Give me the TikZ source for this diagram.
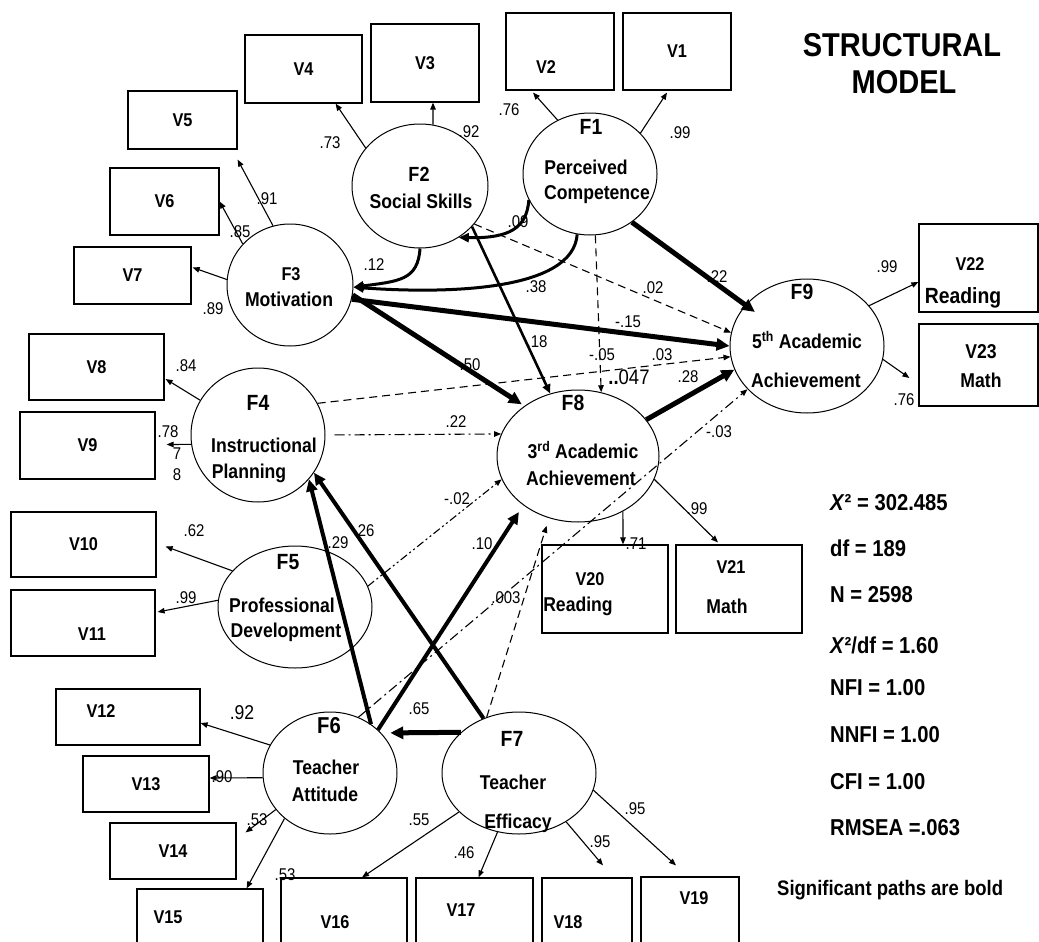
\documentclass[tikz,border=0pt]{standalone}
\usepackage{fontspec}
\setmainfont{Liberation Sans}[FakeStretch=0.88]
\usetikzlibrary{shapes.geometric,arrows.meta,calc}
\newcommand{\fsz}[1]{\fontsize{#1}{#1}\selectfont}
\begin{document}
\begin{tikzpicture}[x=1pt,y=-1pt,
 box/.style={draw,line width=1.2pt,inner sep=0pt,font=\bfseries\fsz{18.5}},
 lat/.style={draw,ellipse,line width=1pt,inner sep=0pt},
 ft/.style={font=\bfseries\fsz{22},inner sep=0pt},
 et/.style={font=\bfseries\fsz{20},inner sep=0pt},
 vt/.style={font=\bfseries\fsz{18.5},inner sep=0pt},
 cf/.style={font=\fsz{17},inner sep=0pt},
 st/.style={font=\bfseries\fsz{23},inner sep=0pt,anchor=west},
 ld/.style={line width=1.1pt,-{Triangle[length=7pt,width=5.5pt]}},
 bld/.style={line width=5pt,-{Triangle[length=13pt,width=12pt]}},
 bldf/.style={line width=4pt,-{Triangle[length=12pt,width=11pt]}},
 mid/.style={line width=2.6pt,-{Triangle[length=9pt,width=8pt]}},
 crv/.style={line width=3pt,-{Triangle[length=10pt,width=9pt]}},
 dsh/.style={line width=1.1pt,dash pattern=on 8pt off 5pt,-{Triangle[length=7pt,width=5.5pt]}},
 dd/.style={line width=1.1pt,dash pattern=on 10pt off 4pt on 2pt off 4pt,-{Triangle[length=7pt,width=5.5pt]}},
 ddd/.style={line width=1.1pt,dash pattern=on 8pt off 3pt on 2pt off 3pt on 2pt off 3pt,-{Triangle[length=7pt,width=5.5pt]}},
]
\fill[white] (0,0) rectangle (1039,942);
\useasboundingbox (0,0) rectangle (1039,942);

% ---------- observed variables ----------
\node[box,minimum width=108,minimum height=77] (V1) at (677,51.5) {V1};
\node[box,minimum width=108,minimum height=77] (V2) at (560,51.5) {};
\node[box,minimum width=108,minimum height=78] (V3) at (425,63) {V3};
\node[box,minimum width=117,minimum height=68] (V4) at (303.5,69) {V4};
\node[box,minimum width=109,minimum height=58] (V5) at (182.5,120) {V5};
\node[box,minimum width=109,minimum height=67] (V6) at (164.5,201.5) {V6};
\node[box,minimum width=117,minimum height=57] (V7) at (132.5,275.5) {V7};
\node[box,minimum width=135,minimum height=66] (V8) at (96.5,367) {V8};
\node[box,minimum width=135,minimum height=67] (V9) at (87.5,445.5) {V9};
\node[box,minimum width=145,minimum height=65] (V10) at (83.5,544.5) {V10};
\node[box,minimum width=144,minimum height=66] (V11) at (83,623) {};
\node[box,minimum width=144,minimum height=56] (V12) at (128,717) {};
\node[box,minimum width=126,minimum height=56] (V13) at (146,784) {V13};
\node[box,minimum width=126,minimum height=56] (V14) at (173,851) {V14};
\node[box,minimum width=126,minimum height=66] (V15) at (200,922) {};
\node[box,minimum width=126,minimum height=77] (V16) at (344,916.5) {};
\node[box,minimum width=117,minimum height=77] (V17) at (474.5,916.5) {};
\node[box,minimum width=90,minimum height=77] (V18) at (587,916.5) {};
\node[box,minimum width=98,minimum height=78] (V19) at (690,916) {};
\node[box,minimum width=126,minimum height=88] (V20) at (605,589) {};
\node[box,minimum width=126,minimum height=88] (V21) at (739,589) {};
\node[box,minimum width=119,minimum height=88] (V22) at (978.5,268) {};
\node[box,minimum width=119,minimum height=82] (V23) at (978.5,365) {};

\node[vt] (V2t) at (546,67) {V2};
\node[vt] (V11t) at (92,634) {V11};
\node[vt] (V12t) at (101,711) {V12};
\node[vt] (V15t) at (168,917) {V15};
\node[vt] (V16t) at (335,922) {V16};
\node[vt] (V17t) at (461,910) {V17};
\node[vt] (V18t) at (568,922) {V18};
\node[vt] (V19t) at (694,898) {V19};
\node[vt] (V20t) at (590,579) {V20};
\node[et] (V20r) at (578,606) {Reading};
\node[vt] (V21t) at (731,567) {V21};
\node[et] (V21m) at (727,606) {Math};
\node[vt] (V22t) at (970,264) {V22};
\node[et,font=\bfseries\fsz{22}] (V22r) at (963,298) {Reading};
\node[vt,font=\bfseries\fsz{20}] (V23t) at (981,352) {V23};
\node[et] (V23m) at (981,380) {Math};

% ---------- latent factors ----------
\node[lat,minimum width=134,minimum height=122] (F1) at (590,174) {};
\node[lat,minimum width=136,minimum height=124] (F2) at (420,186) {};
\node[lat,minimum width=126,minimum height=122] (F3) at (290,285) {};
\node[lat,minimum width=134,minimum height=134] (F4) at (258,435) {};
\node[lat,minimum width=154,minimum height=122] (F5) at (295,607) {};
\node[lat,minimum width=134,minimum height=122] (F6) at (330,773) {};
\node[lat,minimum width=154,minimum height=122] (F7) at (519,773) {};
\node[lat,minimum width=162,minimum height=132] (F8) at (578,456) {};
\node[lat,minimum width=154,minimum height=134] (F9) at (807,346) {};

\node[ft] (F1a) at (591,127) {F1};
\node[et] (F1b) at (586,167) {Perceived};
\node[et] (F1c) at (597,195) {Competence};
\node[ft,font=\bfseries\fsz{20.5}] (F2a) at (419,174) {F2};
\node[et] (F2b) at (421,201) {Social Skills};
\node[ft,font=\bfseries\fsz{18.5}] (F3a) at (291,274) {F3};
\node[et] (F3b) at (289,299) {Motivation};
\node[ft] (F4a) at (258,403) {F4};
\node[et] (F4b) at (264,445) {Instructional};
\node[et] (F4c) at (249,473) {Planning};
\node[ft] (F5a) at (288,562) {F5};
\node[et] (F5b) at (282,605) {Professional};
\node[et] (F5c) at (286,632) {Development};
\node[ft,font=\bfseries\fsz{23}] (F6a) at (329,726) {F6};
\node[et] (F6b) at (326,767) {Teacher};
\node[et] (F6c) at (325,794) {Attitude};
\node[ft] (F7a) at (512,739) {F7};
\node[et] (F7b) at (513,782) {Teacher};
\node[et] (F7c) at (518,823) {Efficacy};
\node[ft] (F8a) at (573,403) {F8};
\node[et] (F8b) at (583,450) {3\textsuperscript{rd} Academic};
\node[et] (F8c) at (581,478) {Achievement};
\node[ft] (F9a) at (802,292) {F9};
\node[et] (F9b) at (807,340) {5\textsuperscript{th} Academic};
\node[et] (F9c) at (806,380) {Achievement};

% ---------- measurement paths ----------
\draw[ld] (F2.145) -- ($(V4.south east)+(-27,0)$);
\draw[ld] (F2.78) -- ($(V3.south)+(8,0)$);
\draw[ld] (F1.121) -- ($(V2.south)+(-27,2)$);
\draw[ld] (F1.39) -- ($(V1.south)+(-10,2)$);
\draw[ld] (F3.106) -- ($(V5.south east)+(0,10)$);
\draw[ld] (F3.139) -- (V6.east);
\draw[ld] (F3.175) -- ($(V7.east)+(1,-8)$);
\draw[ld] (F4.149) -- ($(V8.east)+(1,12)$);
\draw[ld] (F4.188) -- ($(V9.east)+(11,-1)$);
\draw[ld] (F5.150) -- ($(V10.east)+(9,2)$);
\draw[ld] (F5.175) -- ($(V11.east)+(2,-11)$);
\draw[ld] (F6.155) -- ($(V12.east)+(0,6)$);
\draw[ld] (F6.184) -- ($(V13.east)+(0,-6)$);
\draw[ld] (F6.214) -- ($(V14.north east)+(9,10)$);
\draw[ld] (F6.225) -- ($(V15.north east)+(-17,0)$);
\draw[ld] (F7.213) -- ($(V16.north)+(18,0)$);
\draw[ld] (F7.250) -- ($(V17.north)+(4,0)$);
\draw[ld] (F7.314) -- ($(V18.north)+(16,-12)$);
\draw[ld] (F7.347) -- ($(V19.north)+(-14,-11)$);
\draw[ld] (F8.309) -- ($(V20.north)+(18,0)$);
\draw[ld] (F8.343) -- ($(V21.north)+(-21,-2)$);
\draw[ld] (F9.33) -- ($(V22.west)+(0,14)$);
\draw[ld] (F9.350) -- ($(V23.west)+(-9,13)$);

% ---------- structural paths ----------
\draw[crv] (F1.203) .. controls +(-2,28) and +(51,1) .. (F2.307);
\draw[crv] (F2.270) .. controls +(-2,32) and +(45,-6) .. (F3.358);
\draw[crv] (F1.258) .. controls +(-4,56) and +(97,7) .. (F3.358);
\draw[bld,shorten >=3pt] (F3.351) -- (F8.137);
\draw[bld] (F3.347) -- (F9.180);
\draw[mid] (F2.322) -- (F8.114);
\draw[dsh] (F2.325) -- (F9.170);
\draw[bld] (F1.311) -- ($(F9.center)+(-52,-34)$);
\draw[dsh] (F1.275) -- (F8.70);
\draw[dsh] (F4.28) -- (F9.188);
\draw[dd,shorten <=9pt] (F4.east) -- (F8.164);
\draw[bld] (F8.28) -- (F9.198);
\draw[dd] (F6.63) -- (F9.216);
\draw[ddd] (F5.16) -- (F8.197);
\draw[dsh,shorten >=8pt] (F7.120) -- (F8.245);
\draw[bldf] (F6.50) -- (F4.319);
\draw[bldf] (F7.123) -- (F4.326);
\draw[bldf,shorten >=8pt] (F6.42) -- (F8.222);
\draw[bld,shorten >=9pt] (F7.145) -- (F6.38);

% ---------- coefficients ----------
\node[cf] (c1) at (330,143) {.73};
\node[cf] (c2) at (469,132) {.92};
\node[cf] (c3) at (509,110) {.76};
\node[cf] (c4) at (680,133) {.99};
\node[cf] (c5) at (267,199) {.91};
\node[cf] (c6) at (240,232) {.85};
\node[cf] (c7) at (213,309) {.89};
\node[cf] (c8) at (186,366) {.84};
\node[cf] (c9) at (168,432) {.78};
\node[cf] (c9a) at (177,454) {7};
\node[cf] (c9b) at (177,475) {8};
\node[cf] (c10) at (194,531) {.62};
\node[cf] (c11) at (186,598) {.99};
\node[cf,font=\fsz{20}] (c12) at (242,713) {.92};
\node[cf] (c13) at (222,777) {.90};
\node[cf] (c14) at (257,820) {.53};
\node[cf] (c15) at (285,875) {.53};
\node[cf] (c16) at (419,820) {.55};
\node[cf] (c17) at (464,853) {.46};
\node[cf] (c18) at (600,842) {.95};
\node[cf] (c19) at (635,809) {.95};
\node[cf] (c20) at (636,544) {.71};
\node[cf] (c21) at (697,509) {.99};
\node[cf] (c22) at (887,267) {.99};
\node[cf] (c23) at (904,400) {.76};
\node[cf] (s1) at (374,265) {.12};
\node[cf] (s2) at (518,222) {.09};
\node[cf] (s3) at (536,287) {.38};
\node[cf] (s4) at (653,288) {.02};
\node[cf] (s5) at (717,277) {.22};
\node[cf] (s6) at (628,322) {-.15};
\node[cf] (s7) at (602,355) {-.05};
\node[cf] (s8) at (662,355) {.03};
\node[cf,font=\fsz{21}] (s9) at (629,377) {{\bfseries ..}047};
\node[cf] (s10) at (688,377) {.28};
\node[cf] (s11) at (719,432) {-.03};
\node[cf] (s12) at (470,365) {.50};
\node[cf] (s13) at (537,342) {.18};
\node[cf] (s14) at (456,422) {.22};
\node[cf] (s15) at (457,499) {-.02};
\node[cf] (s16) at (482,544) {.10};
\node[cf] (s17) at (506,598) {.003};
\node[cf] (s18) at (338,543) {.29};
\node[cf] (s19) at (364,531) {.26};
\node[cf] (s20) at (419,709) {.65};

% ---------- title and fit ----------
\node[font=\bfseries\fsz{33},align=center,inner sep=0pt] (title) at (902,45) {STRUCTURAL};
\node[font=\bfseries\fsz{33},inner sep=0pt] (title2) at (904,82) {MODEL};
\node[st] (g1) at (830,503) {\textit{X}² = 302.485};
\node[st] (g2) at (830,548) {df = 189};
\node[st] (g3) at (830,595) {N = 2598};
\node[st] (g4) at (830,645) {\textit{X}²/df = 1.60};
\node[st] (g5) at (830,688) {NFI = 1.00};
\node[st] (g6) at (830,735) {NNFI = 1.00};
\node[st] (g7) at (830,782) {CFI = 1.00};
\node[st] (g8) at (830,828) {RMSEA =.063};
\node[st,font=\bfseries\fsz{21}] (g9) at (777,890) {Significant paths are bold};
\end{tikzpicture}
\end{document}
